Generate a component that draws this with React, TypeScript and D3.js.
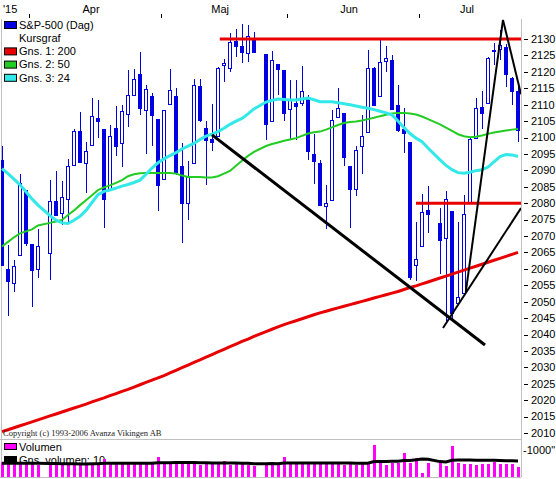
import React from 'react';
import * as d3 from 'd3';

// trading days shown (weekdays without a row are market holidays)
const dates = [
  '2015-03-25', '2015-03-26', '2015-03-27', '2015-03-30', '2015-03-31',
  '2015-04-01', '2015-04-02', '2015-04-06', '2015-04-07', '2015-04-08', '2015-04-09', '2015-04-10',
  '2015-04-13', '2015-04-14', '2015-04-15', '2015-04-16', '2015-04-17', '2015-04-20', '2015-04-21',
  '2015-04-22', '2015-04-23', '2015-04-24', '2015-04-27', '2015-04-28', '2015-04-29', '2015-04-30',
  '2015-05-01', '2015-05-04', '2015-05-05', '2015-05-06', '2015-05-07', '2015-05-08', '2015-05-11',
  '2015-05-12', '2015-05-13', '2015-05-14', '2015-05-15', '2015-05-18', '2015-05-19', '2015-05-20',
  '2015-05-21', '2015-05-22', '2015-05-26', '2015-05-27', '2015-05-28', '2015-05-29',
  '2015-06-01', '2015-06-02', '2015-06-03', '2015-06-04', '2015-06-05', '2015-06-08', '2015-06-09',
  '2015-06-10', '2015-06-11', '2015-06-12', '2015-06-15', '2015-06-16', '2015-06-17', '2015-06-18',
  '2015-06-19', '2015-06-22', '2015-06-23', '2015-06-24', '2015-06-25', '2015-06-26', '2015-06-29',
  '2015-06-30', '2015-07-01', '2015-07-02', '2015-07-06', '2015-07-07', '2015-07-08', '2015-07-09',
  '2015-07-10', '2015-07-13', '2015-07-14', '2015-07-15', '2015-07-16', '2015-07-17', '2015-07-20',
  '2015-07-21', '2015-07-22', '2015-07-23'
];

const open = [
  2093.1, 2059.9, 2055.8, 2064.1, 2084.1, 2067.6, 2060.0, 2064.9, 2080.8, 2076.9, 2081.3, 2091.5,
  2102.0, 2092.3, 2097.8, 2106.0, 2102.6, 2084.1, 2102.8, 2098.3, 2107.2, 2112.8, 2119.3, 2108.4,
  2112.5, 2105.5, 2087.4, 2110.2, 2112.6, 2091.3, 2080.0, 2092.1, 2115.6, 2102.9, 2099.6, 2100.4,
  2122.1, 2121.3, 2129.5, 2127.8, 2125.6, 2130.4, 2125.3, 2105.1, 2122.3, 2120.7, 2108.6, 2110.4,
  2110.6, 2112.4, 2095.1, 2092.3, 2079.1, 2081.1, 2106.2, 2107.4, 2091.3, 2084.3, 2097.4, 2101.6,
  2121.1, 2112.5, 2123.2, 2123.7, 2110.0, 2102.6, 2098.6, 2061.2, 2067.0, 2078.0, 2074.0, 2069.5,
  2077.7, 2049.7, 2052.7, 2080.0, 2099.7, 2109.2, 2110.6, 2126.8, 2126.9, 2127.6, 2118.2, 2114.2
];
const high = [
  2097.4, 2067.2, 2062.8, 2089.0, 2084.1, 2067.6, 2072.2, 2087.0, 2089.8, 2086.7, 2093.3, 2102.6,
  2107.7, 2098.6, 2111.9, 2111.3, 2102.6, 2103.9, 2109.6, 2110.0, 2120.5, 2120.9, 2125.9, 2116.0,
  2113.7, 2105.5, 2108.4, 2121.0, 2115.2, 2098.4, 2092.9, 2117.7, 2117.7, 2105.1, 2110.2, 2121.5,
  2123.9, 2131.8, 2133.0, 2134.7, 2134.3, 2132.2, 2125.3, 2126.2, 2122.3, 2120.7, 2117.6, 2117.6,
  2121.9, 2112.9, 2101.0, 2093.0, 2085.6, 2108.5, 2115.0, 2107.4, 2091.3, 2097.4, 2106.8, 2126.7,
  2121.6, 2129.9, 2128.0, 2125.1, 2116.0, 2108.9, 2098.6, 2074.3, 2082.8, 2085.1, 2078.6, 2083.7,
  2077.7, 2074.3, 2082.5, 2099.9, 2112.0, 2114.1, 2124.4, 2128.9, 2132.8, 2128.5, 2118.5, 2116.9
];
const low = [
  2061.1, 2045.5, 2053.0, 2064.1, 2067.0, 2048.4, 2057.3, 2056.5, 2076.1, 2073.3, 2074.3, 2091.5,
  2092.3, 2083.2, 2097.8, 2100.0, 2072.4, 2084.1, 2094.4, 2091.1, 2103.2, 2112.8, 2107.0, 2094.9,
  2097.4, 2077.6, 2087.4, 2110.2, 2088.5, 2067.9, 2075.0, 2092.1, 2104.6, 2085.6, 2096.0, 2100.4,
  2116.8, 2120.0, 2124.5, 2122.6, 2123.0, 2126.1, 2099.2, 2105.1, 2112.9, 2104.9, 2099.1, 2099.1,
  2109.6, 2093.2, 2085.7, 2079.1, 2072.1, 2081.1, 2106.2, 2091.3, 2072.5, 2082.1, 2088.9, 2101.6,
  2109.5, 2112.5, 2119.9, 2108.6, 2101.8, 2095.4, 2056.6, 2056.3, 2067.0, 2071.0, 2058.4, 2044.0,
  2044.7, 2049.7, 2052.7, 2080.0, 2099.7, 2102.5, 2110.6, 2122.1, 2123.7, 2115.4, 2110.0, 2098.6
];
const close = [
  2061.1, 2056.2, 2061.0, 2086.2, 2067.9, 2059.7, 2067.0, 2080.6, 2076.3, 2081.9, 2091.2, 2102.1,
  2092.4, 2095.8, 2106.6, 2105.0, 2081.2, 2100.4, 2097.3, 2108.0, 2112.9, 2117.7, 2108.9, 2114.8,
  2106.9, 2085.5, 2108.3, 2114.5, 2089.5, 2080.2, 2088.0, 2116.1, 2105.3, 2099.1, 2098.5, 2121.1,
  2122.7, 2129.2, 2127.8, 2125.9, 2130.8, 2126.1, 2104.2, 2123.5, 2120.8, 2107.4, 2111.7, 2109.6,
  2114.1, 2095.8, 2092.8, 2079.3, 2080.2, 2105.2, 2108.9, 2094.1, 2084.4, 2096.3, 2100.4, 2121.2,
  2110.0, 2122.9, 2124.2, 2108.6, 2102.3, 2101.5, 2057.6, 2063.1, 2077.4, 2076.8, 2068.8, 2081.3,
  2046.7, 2051.3, 2076.6, 2099.6, 2109.0, 2107.4, 2124.3, 2126.6, 2128.3, 2119.2, 2114.2, 2102.2
];

// moving averages as drawn on the chart
const ma200 = [
  2010.4, 2011.0, 2011.6, 2012.2, 2012.8, 2013.4, 2014.0, 2015.2, 2015.8, 2016.4, 2017.0, 2017.6,
  2018.2, 2018.8, 2019.5, 2020.1, 2020.7, 2021.4, 2022.0, 2022.7, 2023.3, 2024.0, 2024.7, 2025.4,
  2026.1, 2026.8, 2027.5, 2028.3, 2029.1, 2029.9, 2030.7, 2031.5, 2032.3, 2033.1, 2033.9, 2034.7,
  2035.5, 2036.3, 2037.1, 2037.9, 2038.6, 2039.4, 2040.9, 2041.6, 2042.3, 2043.0, 2043.6, 2044.2,
  2044.8, 2045.4, 2046.0, 2046.6, 2047.1, 2047.6, 2048.1, 2048.6, 2049.1, 2049.6, 2050.1, 2050.6,
  2051.1, 2051.6, 2052.1, 2052.6, 2053.1, 2053.7, 2054.3, 2054.8, 2055.4, 2056.0, 2057.2, 2057.8,
  2058.4, 2059.0, 2059.6, 2060.2, 2060.8, 2061.4, 2062.0, 2062.6, 2063.2, 2063.8, 2064.4, 2065.0
];
const ma50 = [
  2066.8, 2068.2, 2069.6, 2070.8, 2071.4, 2072.0, 2073.2, 2074.0, 2074.4, 2074.9, 2076.4, 2077.8,
  2079.4, 2080.9, 2082.4, 2084.0, 2084.8, 2085.4, 2086.2, 2087.0, 2088.2, 2088.8, 2089.1, 2089.2,
  2089.2, 2089.2, 2089.2, 2089.2, 2089.0, 2088.4, 2088.0, 2088.0, 2088.0, 2087.8, 2087.8, 2088.2,
  2089.0, 2089.8, 2091.4, 2092.9, 2094.4, 2095.6, 2097.4, 2098.0, 2098.5, 2099.0, 2099.4, 2099.8,
  2100.5, 2101.2, 2101.6, 2101.8, 2102.4, 2103.1, 2103.8, 2104.4, 2104.7, 2104.9, 2105.2, 2105.6,
  2106.0, 2106.5, 2106.9, 2107.3, 2107.5, 2107.5, 2107.3, 2107.0, 2106.4, 2105.6, 2104.0, 2103.0,
  2102.0, 2101.0, 2100.4, 2100.1, 2100.2, 2100.6, 2101.1, 2101.5, 2101.8, 2102.1, 2102.4, 2102.6
];
const ma24 = [
  2090.5, 2089.0, 2087.3, 2085.6, 2083.5, 2081.3, 2079.4, 2076.2, 2074.8, 2074.0, 2073.8, 2074.8,
  2076.0, 2077.8, 2080.2, 2082.6, 2083.6, 2084.0, 2084.6, 2085.2, 2085.7, 2086.3, 2087.0, 2088.8,
  2090.7, 2092.3, 2093.5, 2094.5, 2095.4, 2096.5, 2097.4, 2098.2, 2099.4, 2100.4, 2101.0, 2101.8,
  2102.8, 2104.0, 2105.0, 2105.8, 2107.2, 2108.7, 2110.8, 2111.3, 2111.7, 2111.6, 2111.4, 2111.4,
  2111.7, 2112.0, 2111.5, 2110.9, 2110.9, 2110.9, 2110.6, 2110.3, 2110.0, 2109.6, 2109.2, 2108.9,
  2108.5, 2108.0, 2107.5, 2106.9, 2105.0, 2103.0, 2101.2, 2099.8, 2098.7, 2096.8, 2093.2, 2091.5,
  2090.2, 2089.3, 2089.1, 2089.4, 2089.9, 2090.2, 2091.0, 2092.6, 2094.2, 2094.8, 2094.7, 2094.2
];

// volume (same unit as the "1000" mark on the volume axis)
const volume = [
  560, 540, 470, 500, 560, 520, 450, 440, 460, 470, 440, 430,
  450, 480, 530, 500, 670, 470, 480, 490, 500, 470, 560, 500,
  510, 740, 520, 470, 530, 560, 500, 520, 460, 500, 470, 500,
  580, 460, 500, 500, 460, 400, 520, 480, 430, 740, 520, 480,
  500, 510, 500, 480, 480, 520, 470, 440, 520, 460, 500, 520,
  1185, 520, 460, 510, 530, 890, 520, 700, 150, 520, 560, 400,
  1150, 520, 500, 480, 460, 500, 470, 540, 480, 470, 500, 370
];
const volumeAvg = [
  510, 510, 505, 505, 510, 510, 505, 500, 500, 495, 490, 490,
  485, 485, 490, 490, 505, 505, 505, 505, 505, 505, 510, 510,
  510, 530, 530, 530, 535, 535, 535, 535, 530, 525, 520, 520,
  520, 515, 515, 510, 505, 495, 495, 500, 495, 515, 520, 520,
  520, 520, 520, 520, 520, 520, 515, 515, 515, 510, 510, 510,
  575, 575, 575, 580, 580, 610, 615, 640, 670, 660, 570, 560,
  620, 630, 630, 630, 625, 625, 620, 620, 610, 600, 600, 595
];

const priceTicks = [
  2010, 2015, 2020, 2025, 2030, 2035, 2040, 2045, 2050, 2055, 2060, 2065,
  2070, 2075, 2080, 2085, 2090, 2095, 2100, 2105, 2110, 2115, 2120, 2125, 2130
];
const monthLabels = ['Apr', 'Maj', 'Jun', 'Jul'];
const monthKeys = ['2015-04', '2015-05', '2015-06', '2015-07'];

// drawn lines: slot position (weekday index) and price at each end
const levelLines = [
  { from: 36.3, to: 86.5, value: 2130 },
  { from: 69, to: 86.5, value: 2080 }
];
const trendLines = [
  { x1: 35, y1: 2100.8, x2: 80.5, y2: 2036.8, w: 3 },
  { x1: 73.5, y1: 2042, x2: 86.5, y2: 2078.5, w: 2 },
  { x1: 77.3, y1: 2053, x2: 83.5, y2: 2135.8, w: 2 },
  { x1: 83.5, y1: 2135.8, x2: 86.5, y2: 2113.2, w: 2 }
];

const BLUE = '#0000e0';
const RED = '#e80000';
const GREEN = '#22cc22';
const CYAN = '#33e8e8';
const MAGENTA = '#ff00ff';
const FONT = '"Liberation Sans", Arial, sans-serif';

const legendItems = [
  { label: 'S&P-500 (Dag)', color: BLUE },
  { label: 'Kursgraf', color: '' },
  { label: 'Gns. 1: 200', color: RED },
  { label: 'Gns. 2: 50', color: GREEN },
  { label: 'Gns. 3: 24', color: CYAN }
];

const fmt = d3.utcFormat('%Y-%m-%d');
const slots = d3
  .utcDay
  .range(new Date(Date.UTC(2015, 2, 25)), new Date(Date.UTC(2015, 6, 24)))
  .filter(d => d.getUTCDay() > 0 && d.getUTCDay() < 6)
  .map(fmt);

const App = () => {
  const width = 556;
  const height = 479;
  const plot = { left: 1, right: 521, top: 19, bottom: 439 };
  const vol = { top: 439, bottom: 477 };

  const x = d3.scaleLinear().domain([0, slots.length - 1]).range([2, 518]);
  const y = d3.scaleLinear().domain([2010, 2130]).range([433, 39]);
  const yv = d3.scaleLinear().domain([0, 1000]).range([vol.bottom, 450]);

  const pos = dates.map(d => slots.indexOf(d));
  const px = (i: number) => Math.round(x(pos[i]));

  const maLine = d3
    .line<number>()
    .x((_, i) => x(pos[i]))
    .y(d => y(d));
  const volLine = d3
    .line<number>()
    .x((_, i) => x(pos[i]))
    .y(d => yv(d));

  // month ticks sit between the last weekday of one month and the first of the next
  const ticks = monthKeys.map(m => x(slots.findIndex(s => s.startsWith(m)) - 0.5));
  const months = monthLabels.map((label, i) => {
    const next = i < ticks.length - 1 ? ticks[i + 1] : plot.right;
    return { label, tick: ticks[i], center: ticks[i] + (next - ticks[i]) * 0.47 };
  });

  return (
    <svg
      width={width}
      height={height}
      style={{ position: 'absolute', left: 0, top: 0, background: '#fff' }}
      fontFamily={FONT}
    >
      <defs>
        <clipPath id="pricePane">
          <rect x={plot.left} y={plot.top} width={plot.right - plot.left} height={plot.bottom - plot.top} />
        </clipPath>
      </defs>
      <rect x={0} y={0} width={width} height={height} fill="#fff" />

      {/* month labels */}
      <text x={3} y={13} fontSize={11} fill="#000">'15</text>
      {months.map(m => (
        <g key={m.label}>
          <line x1={Math.round(m.tick) + 0.5} x2={Math.round(m.tick) + 0.5} y1={14} y2={18} stroke="#000" />
          <text x={m.center} y={13} fontSize={11} textAnchor="middle" fill="#000">{m.label}</text>
        </g>
      ))}

      {/* frame */}
      <g stroke="#c0c0c0" strokeWidth={1} shapeRendering="crispEdges">
        <line x1={plot.left + 0.5} x2={plot.left + 0.5} y1={plot.top} y2={vol.bottom} />
        <line x1={plot.right + 0.5} x2={plot.right + 0.5} y1={plot.top} y2={vol.bottom} />
        <line x1={0} x2={plot.right} y1={plot.bottom + 0.5} y2={plot.bottom + 0.5} />
        <line x1={0} x2={plot.right} y1={vol.bottom + 0.5} y2={vol.bottom + 0.5} />
      </g>

      {/* price axis */}
      {priceTicks.map(t => (
        <g key={t}>
          <line x1={524} x2={528} y1={Math.round(y(t)) + 0.5} y2={Math.round(y(t)) + 0.5} stroke="#000" />
          <text x={531} y={y(t)} dy="0.35em" fontSize={11} fill="#000">{t}</text>
        </g>
      ))}
      <text x={523} y={yv(1000)} dy="0.35em" fontSize={11} fill="#000">-1000"</text>

      {/* legend */}
      {legendItems.map((item, i) => (
        <g key={item.label} transform={`translate(0, ${25 + i * 13.2})`}>
          {item.color && (
            <rect x={4.5} y={-3.5} width={12} height={7} fill={item.color} stroke="#000" strokeWidth={1} />
          )}
          <text x={19} y={0} dy="0.35em" fontSize={11} fill="#000">{item.label}</text>
        </g>
      ))}

      <g clipPath="url(#pricePane)">
        {/* candles */}
        {dates.map((d, i) => {
          const cx = px(i);
          const up = close[i] >= open[i];
          const top = y(Math.max(open[i], close[i]));
          const bot = y(Math.min(open[i], close[i]));
          const h = Math.max(1, Math.round(bot) - Math.round(top));
          return (
            <g key={d} shapeRendering="crispEdges">
              <line x1={cx + 0.5} x2={cx + 0.5} y1={y(high[i])} y2={y(low[i])} stroke={BLUE} strokeWidth={1} />
              <rect
                x={cx - 1.5}
                y={Math.round(top) + 0.5}
                width={3}
                height={h}
                fill={up ? '#fff' : BLUE}
                stroke={BLUE}
                strokeWidth={1}
              />
            </g>
          );
        })}

        {/* moving averages */}
        <path d={maLine(ma200) ?? ''} fill="none" stroke={RED} strokeWidth={3} />
        <path d={maLine(ma50) ?? ''} fill="none" stroke={GREEN} strokeWidth={2} />
        <path d={maLine(ma24) ?? ''} fill="none" stroke={CYAN} strokeWidth={3} />

        {/* drawn levels and trend lines */}
        {levelLines.map((l, i) => (
          <line key={i} x1={x(l.from)} x2={x(l.to)} y1={y(l.value)} y2={y(l.value)} stroke={RED} strokeWidth={3} />
        ))}
        {trendLines.map((l, i) => (
          <line key={i} x1={x(l.x1)} y1={y(l.y1)} x2={x(l.x2)} y2={y(l.y2)} stroke="#000" strokeWidth={l.w} />
        ))}
      </g>

      <text x={3} y={436} fontSize={8.5} fontFamily='"Liberation Serif", serif' fill="#222">
        Copyright (c) 1993-2006 Avanza Vikingen AB
      </text>

      {/* volume legend */}
      <rect x={4.5} y={443.5} width={12} height={6} fill={MAGENTA} stroke="#000" />
      <text x={19} y={447} dy="0.35em" fontSize={11} fill="#000">Volumen</text>
      <rect x={4.5} y={456.5} width={12} height={6} fill="#000" stroke="#000" />
      <text x={19} y={460} dy="0.35em" fontSize={11} fill="#000">Gns. volumen: 10</text>

      {/* volume bars */}
      {volume.map((v, i) => (
        <rect
          key={dates[i]}
          x={px(i) - 1}
          y={yv(v)}
          width={3}
          height={vol.bottom - yv(v)}
          fill={MAGENTA}
          shapeRendering="crispEdges"
        />
      ))}
      <path d={volLine(volumeAvg) ?? ''} fill="none" stroke="#000" strokeWidth={3} />
    </svg>
  );
};

export default App;
